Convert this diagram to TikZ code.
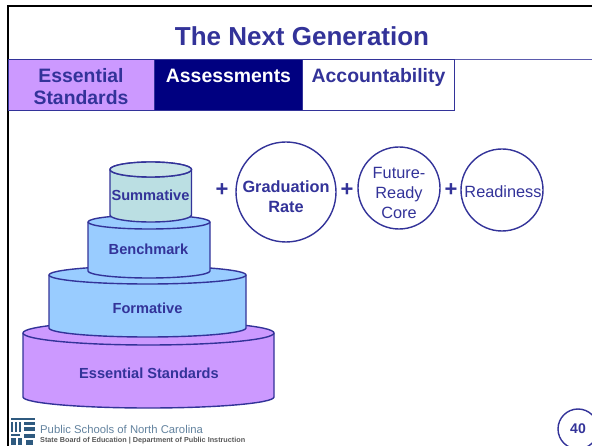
\documentclass[tikz,border=0pt]{standalone}
\usepackage{fontspec}
\setmainfont{Liberation Sans}
\definecolor{ink}{HTML}{333399}
\definecolor{lav}{HTML}{CC99FF}
\definecolor{sky}{HTML}{99CCFF}
\definecolor{teal2}{HTML}{BBDFE3}
\definecolor{tealtop}{HTML}{C9E5E8}
\definecolor{navy2}{HTML}{000080}
\definecolor{logo}{HTML}{2F5A7F}
\newcommand{\cyl}[7]{% xl xr ytopcentre ybottomside ry fill bottom-ry
  \pgfmathsetmacro{\rx}{(#2-#1)/2}
  \draw[cyl,fill=#6] (#1,#3) -- (#1,#4) arc[start angle=180,end angle=0,x radius=\rx,y radius=#7] -- (#2,#3) arc[start angle=0,end angle=-180,x radius=\rx,y radius=#5] -- cycle;
  \draw[cyl] (#1,#3) arc[start angle=180,end angle=0,x radius=\rx,y radius=#5];
}
\tikzset{
  x=1pt,y=-1pt,
  cyl/.style={draw=ink,line width=1.4pt},
  lbl/.style={text=ink,font=\fontsize{14.6}{17}\selectfont\bfseries,inner sep=0pt,align=center},
  tab/.style={draw=ink,line width=1.4pt,minimum height=51pt,inner sep=0pt,anchor=north west},
  tabtext/.style={inner sep=0pt,align=center,font=\fontsize{19.4}{22.5}\selectfont\bfseries},
  ring/.style={circle,draw=ink,line width=1.4pt,inner sep=0pt},
  ringtext/.style={text=ink,inner sep=0pt,align=center},
  plusmark/.style={text=ink,inner sep=0pt,font=\fontsize{22}{22}\selectfont\bfseries}
}
\begin{document}
\begin{tikzpicture}
\useasboundingbox (0,0) rectangle (592,446);
\begin{scope}
\clip (0,0) rectangle (592,446);
\fill[white] (0,0) rectangle (592,446);
\draw[black,line width=2pt] (8,446) -- (8,6) -- (592,6);
\node[text=ink,font=\fontsize{26}{28}\selectfont\bfseries,inner sep=0pt] (title) at (302,36) {The Next Generation};
\draw[ink,line width=0.8pt,opacity=.8] (454,59) -- (592,59);
\node[tab,fill=lav,minimum width=146pt] (essential) at (8,59) {};
\node[tabtext,text=ink] (essentialtext) at (81,86.5) {Essential\\Standards};
\node[tab,fill=navy2,minimum width=148pt] (assess) at (154,59) {};
\node[tabtext,text=white,anchor=base] (assesstext) at (228.5,82.5) {Assessments};
\node[tab,fill=white,minimum width=152pt] (account) at (302,59) {};
\node[tabtext,text=ink,anchor=base] (accounttext) at (378.5,82.5) {Accountability};
\cyl{23}{274}{333}{397}{12}{lav}{11}
\cyl{49}{246}{275}{328}{9}{sky}{9}
\cyl{88}{210}{222}{271}{7}{sky}{7}
\cyl{110}{191.5}{169.5}{215}{7.5}{teal2}{7}
\fill[tealtop] (110,169.5) arc[start angle=180,end angle=-180,x radius=40.75,y radius=7.5];
\draw[cyl] (110,169.5) arc[start angle=180,end angle=-180,x radius=40.75,y radius=7.5];
\node[lbl] (summative) at (150.5,195) {Summative};
\node[lbl] (benchmark) at (148.5,249) {Benchmark};
\node[lbl] (formative) at (147.5,308) {Formative};
\node[lbl] (standards) at (149,373.5) {Essential Standards};
\node[plusmark] (p1) at (222,190.5) {+};
\node[ring,minimum size=100pt] (grad) at (286,192) {};
\node[ringtext,font=\fontsize{16.3}{20}\selectfont\bfseries] (gradtext) at (286,197) {Graduation\\Rate};
\node[plusmark] (p2) at (347,190) {+};
\node[ring,minimum size=82pt] (core) at (399,188) {};
\node[ringtext,font=\fontsize{16.3}{20}\selectfont] (coretext) at (399,192.5) {Future-\\Ready\\Core};
\node[plusmark] (p3) at (451,190) {+};
\node[ring,minimum size=82pt] (ready) at (502,190) {};
\node[ringtext,font=\fontsize{16.3}{18}\selectfont] (readytext) at (503,191.5) {Readiness};
\node[ring,minimum size=40pt] (page) at (578,429) {};
\node[ringtext,font=\fontsize{14}{15}\selectfont\bfseries] (pagetext) at (578,429) {40};
% logo
\fill[logo] (11,418) rectangle (35,420);
\fill[logo] (11,422) rectangle (13,432);
\fill[logo] (15,422) rectangle (17,432);
\fill[logo] (19,422) rectangle (21,432);
\fill[logo] (24,422) rectangle (35,425);
\fill[logo] (24,427) rectangle (35,431);
\fill[logo] (11,434) rectangle (20,436);
\fill[logo] (11,438) rectangle (16,445);
\fill[logo] (18,438) rectangle (22,445);
\fill[logo] (24,434) rectangle (35,438);
\fill[logo] (26,440) rectangle (33,445);
\node[anchor=west,inner sep=0pt,text=logo!75!white,font=\fontsize{11.3}{13}\selectfont] (logoa) at (40,429) {Public Schools of North Carolina};
\node[anchor=west,inner sep=0pt,text=black!65,font=\fontsize{7.25}{8}\selectfont\bfseries] (logob) at (40,440.5) {State Board of Education | Department of Public Instruction};
\end{scope}
\end{tikzpicture}
\end{document}
